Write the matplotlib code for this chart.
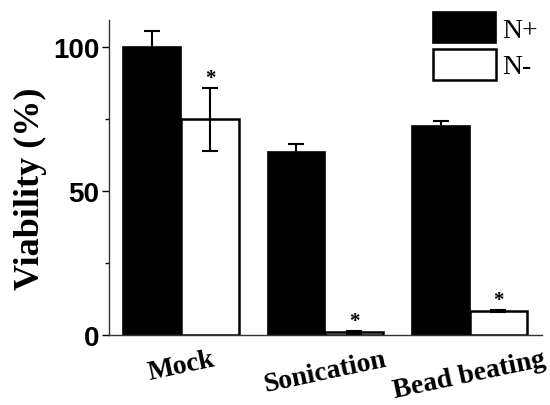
import numpy as np
import matplotlib.pyplot as plt
from matplotlib.ticker import MultipleLocator

groups = ['Mock', 'Sonication', 'Bead beating']
n_plus = [100, 63.5, 72.5]
n_plus_err = [5.5, 3.0, 2.0]
n_minus = [75, 1.0, 8.5]
n_minus_err = [11, 0.5, 0.4]
marks = ['*', '*', '*']

fig = plt.figure(figsize=(5.5, 4.06), dpi=100)
ax = fig.add_axes([0.198, 0.172, 0.787, 0.776])

x = np.arange(len(groups))
w = 0.4
err_kw = dict(ecolor='black', elinewidth=1.5, capsize=5.5, capthick=1.5)
ax.bar(x - w / 2, n_plus, w, yerr=n_plus_err, color='black', edgecolor='black',
       linewidth=1.2, label='N+', error_kw=err_kw)
ax.bar(x + w / 2, n_minus, w, yerr=n_minus_err, color='white', edgecolor='black',
       linewidth=1.8, label='N-', error_kw=err_kw)

# significance marks above the N- bars
for i in range(len(groups)):
    ax.text(x[i] + w / 2, n_minus[i] + n_minus_err[i], marks[i],
            ha='center', va='bottom', fontsize=15, fontweight='bold',
            family='Liberation Serif')

ax.set_xlim(-0.5, 2.5)
ax.set_ylim(0, 109.4)
ax.spines['top'].set_visible(False)
ax.spines['right'].set_visible(False)
ax.spines['bottom'].set_linewidth(1.0)
ax.spines['left'].set_linewidth(1.0)
ax.spines['bottom'].set_color('#333333')
ax.spines['left'].set_color('#333333')

ax.set_yticks([0, 50, 100])
ax.yaxis.set_minor_locator(MultipleLocator(25))
ax.tick_params(axis='y', which='major', length=5, width=1, pad=2)
ax.tick_params(axis='y', which='minor', length=3, width=1)
for lab in ax.get_yticklabels():
    lab.set_family('Liberation Sans')
    lab.set_fontweight('bold')
    lab.set_fontsize(20)

ax.set_xticks(x)
ax.set_xticklabels(groups, rotation=12, fontsize=20, fontweight='bold',
                   family='Liberation Serif')
ax.tick_params(axis='x', length=0, pad=8)
# nudge the last label a little to the left so it stays inside the figure
ax.get_xticklabels()[-1].set_x(x[-1] - 0.03)

ax.set_ylabel('Viability (%)', fontsize=26, fontweight='bold', family='Liberation Serif')
ax.yaxis.set_label_coords(-0.143, 0.467)

leg = fig.legend(loc='upper left', bbox_to_anchor=(0.787, 0.968), frameon=False,
                 prop={'family': 'Liberation Serif', 'size': 20},
                 handlelength=2.27, handleheight=1.34, labelspacing=0.2,
                 handletextpad=0.22, borderpad=0, borderaxespad=0)

fig.savefig('out.png', dpi=100)
